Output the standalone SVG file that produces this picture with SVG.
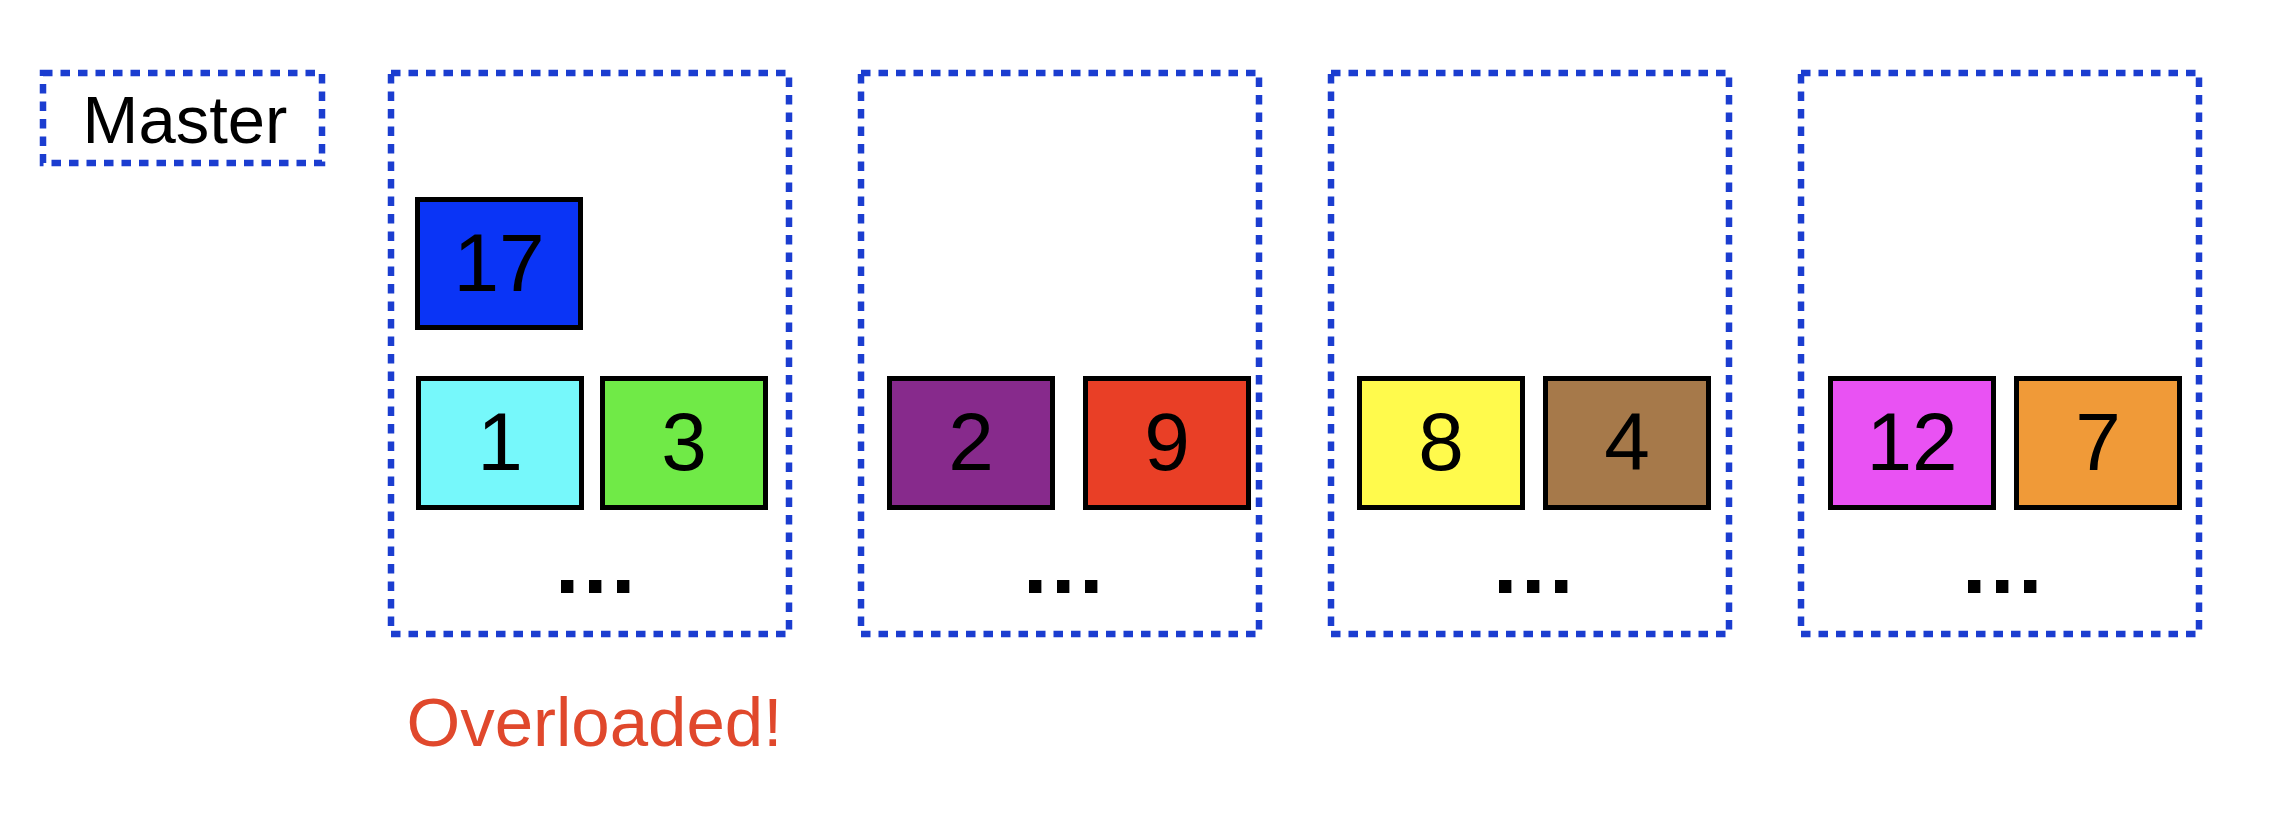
<svg xmlns="http://www.w3.org/2000/svg" width="2292" height="824" viewBox="0 0 2292 824">
<style>
.dot{fill:none;stroke:#1b3dd0;stroke-width:6.5;stroke-dasharray:9.5 8}
.blk{stroke:#000;stroke-width:5}
.num{font-family:"Liberation Sans",Arial,sans-serif;font-size:82px;fill:#000;text-anchor:middle}
.ell{font-family:"Liberation Sans",Arial,sans-serif;font-size:88px;font-weight:bold;letter-spacing:3.5px;fill:#000}
.lbl{font-family:"Liberation Sans",Arial,sans-serif;fill:#000}
</style>
<rect width="2292" height="824" fill="#fff"/>
<g id="connectors"/>
<g id="master">
<rect class="dot" x="43" y="73" width="279" height="90"/>
<text class="lbl" x="185" y="143" font-size="67" text-anchor="middle">Master</text>
</g>
<g id="server1">
<rect class="dot" x="391" y="73" width="398" height="561"/>
<text class="ell" x="555" y="593">...</text>
</g>
<g id="server2">
<rect class="dot" x="861" y="73" width="398" height="561"/>
<text class="ell" x="1023" y="593">...</text>
</g>
<g id="server3">
<rect class="dot" x="1331" y="73" width="398" height="561"/>
<text class="ell" x="1493" y="593">...</text>
</g>
<g id="server4">
<rect class="dot" x="1801" y="73" width="398" height="561"/>
<text class="ell" x="1962" y="593">...</text>
</g>
<g id="shard17"><rect class="blk" x="417.5" y="199.5" width="163" height="128" fill="#0a34f6"/><text class="num" x="499" y="291">17</text></g>
<g id="shard1"><rect class="blk" x="418.5" y="378.5" width="163" height="129" fill="#76f8fb"/><text class="num" x="500" y="470">1</text></g>
<g id="shard3"><rect class="blk" x="602.5" y="378.5" width="163" height="129" fill="#70ea47"/><text class="num" x="684" y="470">3</text></g>
<g id="shard2"><rect class="blk" x="889.5" y="378.5" width="163" height="129" fill="#872a8c"/><text class="num" x="971" y="470">2</text></g>
<g id="shard9"><rect class="blk" x="1085.5" y="378.5" width="163" height="129" fill="#e93f26"/><text class="num" x="1167" y="470">9</text></g>
<g id="shard8"><rect class="blk" x="1359.5" y="378.5" width="163" height="129" fill="#fffa4c"/><text class="num" x="1441" y="470">8</text></g>
<g id="shard4"><rect class="blk" x="1545.5" y="378.5" width="163" height="129" fill="#a6794a"/><text class="num" x="1627" y="470">4</text></g>
<g id="shard12"><rect class="blk" x="1830.5" y="378.5" width="163" height="129" fill="#e952f3"/><text class="num" x="1912" y="470">12</text></g>
<g id="shard7"><rect class="blk" x="2016.5" y="378.5" width="163" height="129" fill="#f09a38"/><text class="num" x="2098" y="470">7</text></g>
<g id="overloaded">
<text class="lbl" x="406.5" y="746" font-size="69" style="fill:#e0482c">Overloaded!</text>
</g>
</svg>
